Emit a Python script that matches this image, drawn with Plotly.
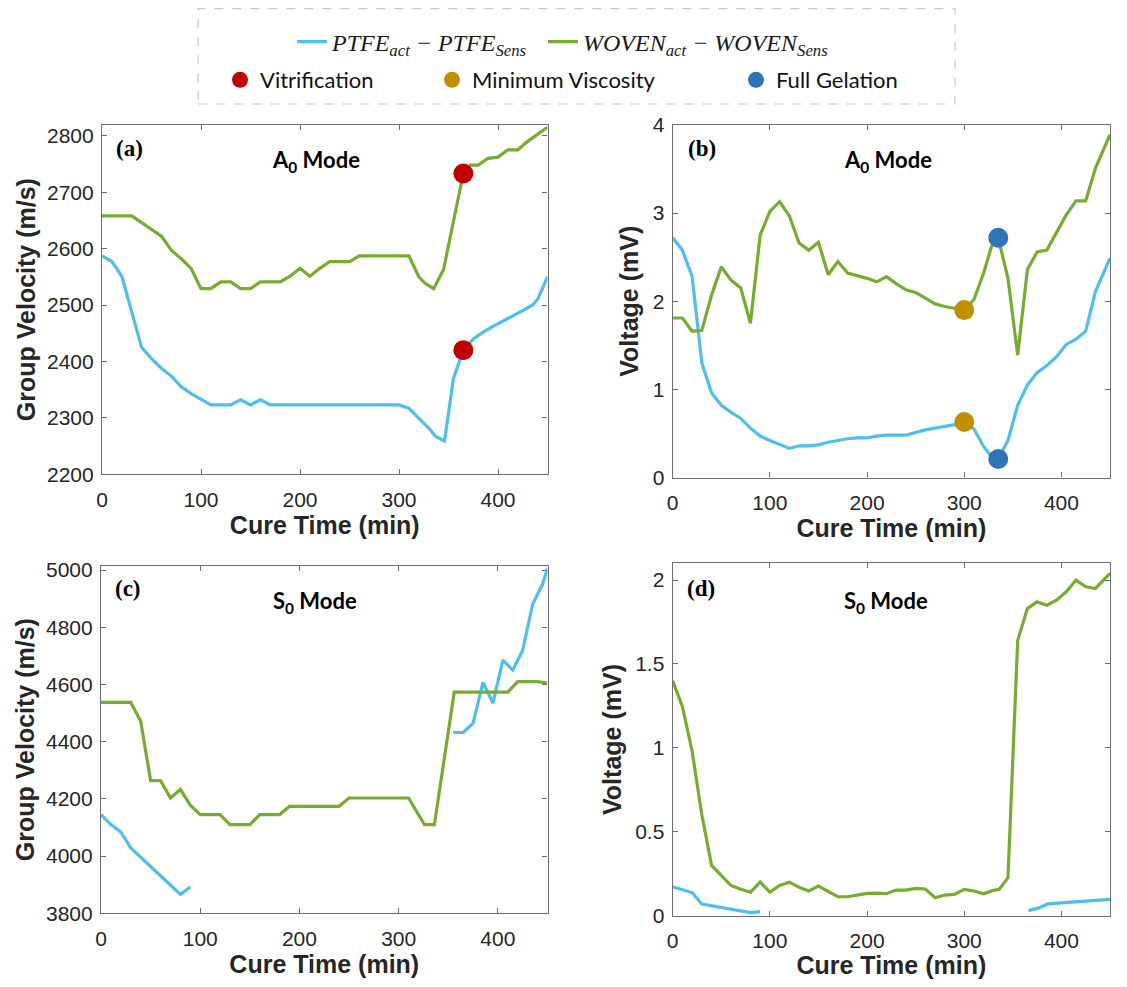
import plotly.graph_objects as go

# reference canvas size; the page body adds an 8 px margin, so the figure is drawn inside it
W, H = 1127, 987
OFF = 8
FW, FH = W - OFF, H - 2 * OFF

# ---------------- data ----------------
# Panel (a): A0 mode group velocity (m/s)
a_ptfe_t = [0, 10, 20, 30, 40, 50, 60, 70, 80, 90, 100, 110, 120, 130, 140, 150, 160, 170,
            180, 190, 200, 210, 220, 230, 240, 250, 260, 270, 280, 290, 300,
            310, 320, 330, 337, 346, 355, 365, 375, 385, 395, 405, 415, 425, 435, 440, 450]
a_ptfe_v = [2587, 2577, 2551, 2487, 2425, 2405, 2388, 2374, 2355, 2343, 2333, 2323, 2323, 2323, 2332, 2323, 2332, 2323,
            2323, 2323, 2323, 2323, 2323, 2323, 2323, 2323, 2323, 2323, 2323, 2323, 2323,
            2317, 2300, 2282, 2267, 2259, 2370, 2420, 2440, 2452, 2462, 2471, 2480, 2490, 2500, 2510, 2550]
a_woven_t = [0, 10, 20, 30, 40, 50, 60, 70, 80, 90, 100, 110, 120, 130, 140, 150, 160, 170, 180,
             190, 200, 210, 220, 230, 240, 250, 260, 270, 280, 290, 300, 310,
             320, 326, 335, 345, 355, 365, 372, 380, 390, 400, 410, 420, 430, 440, 450]
a_woven_v = [2658, 2658, 2658, 2658, 2646, 2634, 2622, 2597, 2582, 2565, 2529, 2529, 2541, 2541, 2529, 2529, 2541, 2541, 2541,
             2551, 2565, 2551, 2565, 2577, 2577, 2577, 2587, 2587, 2587, 2587, 2587, 2587,
             2550, 2539, 2529, 2563, 2648, 2733, 2748, 2748, 2760, 2762, 2775, 2775, 2790, 2803, 2815]

# Panel (b): A0 mode voltage (mV)
b_ptfe_t = [0, 10, 20, 30, 40, 50, 60, 70, 80, 90, 100, 110, 120, 130, 140, 150, 160, 170, 180, 190,
            200, 210, 220, 230, 240, 250, 260, 270, 280, 290, 300, 310, 320, 328, 335, 345, 355,
            365, 375, 385, 395, 405, 415, 425, 435, 450]
b_ptfe_v = [2.72, 2.58, 2.28, 1.30, 0.96, 0.82, 0.74, 0.67, 0.56, 0.47, 0.42, 0.37, 0.33, 0.36, 0.36, 0.37, 0.40, 0.42, 0.44, 0.45,
            0.45, 0.47, 0.48, 0.48, 0.48, 0.51, 0.54, 0.56, 0.58, 0.60, 0.63, 0.55, 0.35, 0.24, 0.21, 0.42, 0.82,
            1.05, 1.19, 1.27, 1.37, 1.51, 1.57, 1.66, 2.11, 2.49]
b_woven_t = [0, 10, 20, 30, 40, 50, 60, 70, 80, 90, 100, 110, 120, 130, 140, 150, 160, 170, 180, 190,
             200, 210, 220, 230, 240, 250, 260, 270, 280, 290, 300, 310, 320, 328, 335, 345, 355,
             365, 375, 385, 395, 405, 415, 425, 435, 450]
b_woven_v = [1.81, 1.81, 1.66, 1.67, 2.07, 2.39, 2.24, 2.15, 1.75, 2.75, 3.02, 3.13, 2.97, 2.66, 2.58, 2.67, 2.30, 2.45, 2.32, 2.29,
             2.26, 2.22, 2.28, 2.20, 2.13, 2.10, 2.03, 1.97, 1.94, 1.92, 1.90, 2.02, 2.32, 2.62, 2.72, 2.26, 1.39,
             2.36, 2.56, 2.58, 2.78, 2.98, 3.14, 3.14, 3.51, 3.89]

# Panel (c): S0 mode group velocity (m/s)
c_ptfe_t = [0, 10, 20, 30, 40, 50, 60, 70, 80, 90, None,
            355, 365, 375, 385, 395, 405, 415, 425, 435, 445, 450]
c_ptfe_v = [4145, 4110, 4084, 4029, 3996, 3964, 3931, 3899, 3866, 3892, None,
            4432, 4432, 4465, 4607, 4535, 4685, 4650, 4720, 4880, 4950, 5005]
c_woven_t = [0, 10, 20, 30, 40, 50, 60, 70, 80, 90, 100, 110, 120, 130, 140, 150, 160, 170, 180, 190,
             200, 210, 220, 230, 240, 250, 260, 270, 280, 290, 300, 310,
             326, 336, 356, 370, 380, 390, 400, 410, 420, 430, 440, 450]
c_woven_v = [4537, 4537, 4537, 4537, 4471, 4264, 4264, 4203, 4233, 4178, 4145, 4145, 4145, 4110, 4110, 4110, 4145, 4145, 4145, 4174,
             4174, 4174, 4174, 4174, 4174, 4203, 4203, 4203, 4203, 4203, 4203, 4203,
             4110, 4110, 4573, 4573, 4573, 4573, 4573, 4573, 4610, 4610, 4610, 4605]

# Panel (d): S0 mode voltage (mV)
d_ptfe_t = [0, 10, 20, 30, 40, 50, 60, 70, 80, 90, None, 366, 376, 386, 400, 420, 450]
d_ptfe_v = [0.173, 0.153, 0.137, 0.07, 0.06, 0.05, 0.04, 0.03, 0.018, 0.024, None, 0.03, 0.045, 0.07, 0.075, 0.083, 0.097]
d_woven_t = [0, 10, 20, 30, 40, 50, 60, 70, 80, 90, 100, 110, 120, 130, 140, 150, 160, 170, 180, 190,
             200, 210, 220, 230, 240, 250, 260, 270, 280, 290, 300, 310, 320, 330, 336,
             345, 355, 365, 375, 385, 395, 405, 415, 425, 435, 450]
d_woven_v = [1.40, 1.245, 0.98, 0.60, 0.30, 0.24, 0.18, 0.157, 0.14, 0.20, 0.14, 0.18, 0.20, 0.17, 0.147, 0.177, 0.143, 0.113, 0.113, 0.123,
             0.133, 0.135, 0.131, 0.153, 0.153, 0.163, 0.159, 0.107, 0.123, 0.127, 0.157, 0.147, 0.131, 0.151, 0.157,
             0.226, 1.64, 1.83, 1.87, 1.85, 1.88, 1.93, 2.00, 1.96, 1.95, 2.04]

# Cure-state markers
vit_t = [365, 365]
vit_v = [2733, 2420]
minvisc_t = [300, 300]
minvisc_v = [1.90, 0.63]
gel_t = [335, 335]
gel_v = [2.72, 0.21]

# ---------------- styling ----------------
BLUE = "#4DBEEE"
GREEN = "#77AC30"
RED = "#C00000"
GOLD = "#BF9000"
DBLUE = "#2E75B6"
AX = "#6e6e6e"
TXT = "#262626"

def px(x):
    return (x - OFF) / FW

def py(y):
    return 1 - (y - OFF) / FH

fig = go.Figure()

panels = [
    ("x", "y", a_ptfe_t, a_ptfe_v, a_woven_t, a_woven_v),
    ("x2", "y2", b_ptfe_t, b_ptfe_v, b_woven_t, b_woven_v),
    ("x3", "y3", c_ptfe_t, c_ptfe_v, c_woven_t, c_woven_v),
    ("x4", "y4", d_ptfe_t, d_ptfe_v, d_woven_t, d_woven_v),
]
ptfe_name = "<i>PTFE<sub>act</sub> − PTFE<sub>Sens</sub></i>"
woven_name = "<i>WOVEN<sub>act</sub> − WOVEN<sub>Sens</sub></i>"
for i, (xa, ya, pt, pv, wt, wv) in enumerate(panels):
    fig.add_trace(go.Scatter(x=pt, y=pv, xaxis=xa, yaxis=ya, mode="lines",
                             line=dict(color=BLUE, width=3.2), name=ptfe_name,
                             legend="legend", showlegend=(i == 0), connectgaps=False))
    fig.add_trace(go.Scatter(x=wt, y=wv, xaxis=xa, yaxis=ya, mode="lines",
                             line=dict(color=GREEN, width=3.2), name=woven_name,
                             legend="legend2", showlegend=(i == 0)))

fig.add_trace(go.Scatter(x=vit_t, y=vit_v, xaxis="x", yaxis="y", mode="markers",
                         marker=dict(color=RED, size=20), name="Vitrification", legend="legend3"))
fig.add_trace(go.Scatter(x=minvisc_t, y=minvisc_v, xaxis="x2", yaxis="y2", mode="markers",
                         marker=dict(color=GOLD, size=20), name="Minimum Viscosity", legend="legend4"))
fig.add_trace(go.Scatter(x=gel_t, y=gel_v, xaxis="x2", yaxis="y2", mode="markers",
                         marker=dict(color=DBLUE, size=20), name="Full Gelation", legend="legend5"))

SANS = "Liberation Sans, Arial, sans-serif"
tickfont = dict(family=SANS, size=21, color=TXT)
titlefont = dict(family=SANS, size=25, color=TXT, weight="bold")

def xaxis(domain, anchor):
    return dict(domain=domain, anchor=anchor, range=[0, 450], dtick=100, tick0=0,
                showline=True, linecolor=AX, linewidth=1.2, mirror="allticks",
                ticks="inside", ticklen=5, tickcolor=AX, showgrid=False, zeroline=False,
                tickfont=tickfont, automargin=False, ticklabelstandoff=6,
                title=dict(text="Cure Time (min)", font=titlefont, standoff=4))

def yaxis(domain, anchor, rng, dtick, title, standoff):
    return dict(domain=domain, anchor=anchor, range=rng, dtick=dtick,
                showline=True, linecolor=AX, linewidth=1.2, mirror="allticks",
                ticks="inside", ticklen=5, tickcolor=AX, showgrid=False, zeroline=False,
                tickfont=tickfont, automargin=False, ticklabelstandoff=3,
                title=dict(text=title, font=titlefont, standoff=standoff))

RIGHT = 1110
fig.update_layout(
    width=FW, height=FH,
    margin=dict(l=0, r=0, t=0, b=0),
    paper_bgcolor="white", plot_bgcolor="white",
    xaxis=xaxis([px(102), px(547.5)], "y"),
    yaxis=yaxis([py(474.3), py(125)], "x", [2200, 2819], 100, "Group Velocity (m/s)", 4),
    xaxis2=xaxis([px(672.7), px(RIGHT)], "y2"),
    yaxis2=yaxis([py(477.5), py(125)], "x2", [0, 4], 1, "Voltage (mV)", 6),
    xaxis3=xaxis([px(101), px(547.5)], "y3"),
    yaxis3=yaxis([py(913.3), py(566)], "x3", [3800, 5014], 200, "Group Velocity (m/s)", 4),
    xaxis4=xaxis([px(672.7), px(RIGHT)], "y4"),
    yaxis4=yaxis([py(915.7), py(563.3)], "x4", [0, 2.1], 0.5, "Voltage (mV)", 6),
    showlegend=True,
)

serif_leg = dict(family="Liberation Serif, DejaVu Serif, serif", size=24, color="#1a1a1a")
sans_leg = dict(family="Lato, Open Sans, sans-serif", size=22, color="#111111")
common = dict(orientation="h", yanchor="middle", xanchor="left", bgcolor="rgba(0,0,0,0)",
              borderwidth=0, itemclick=False, itemdoubleclick=False)
fig.update_layout(
    legend=dict(x=px(292), y=py(42), font=serif_leg, **common),
    legend2=dict(x=px(543), y=py(42), font=serif_leg, **common),
    legend3=dict(x=px(220), y=py(80), font=sans_leg, **common),
    legend4=dict(x=px(432), y=py(80), font=sans_leg, **common),
    legend5=dict(x=px(736), y=py(80), font=sans_leg, **common),
)

# dashed legend frame
fig.add_shape(type="rect", xref="paper", yref="paper",
              x0=px(198), x1=px(955), y0=py(104), y1=py(8.6),
              line=dict(color="#c8c8c8", width=1.2, dash="dash"), fillcolor="rgba(0,0,0,0)")

lab_font = dict(family="Liberation Serif, Times New Roman, serif", size=23, color="black", weight="bold")
mode_font = dict(family="Lato, Open Sans, sans-serif", size=22, color="black", weight="bold")
annots = [
    ("(a)", 114, 148, "left", lab_font), ("A<sub>0</sub> Mode", 316, 161, "center", mode_font),
    ("(b)", 686, 148, "left", lab_font), ("A<sub>0</sub> Mode", 888, 161, "center", mode_font),
    ("(c)", 113, 588, "left", lab_font), ("S<sub>0</sub> Mode", 315, 602, "center", mode_font),
    ("(d)", 685, 588, "left", lab_font), ("S<sub>0</sub> Mode", 886, 602, "center", mode_font),
]
for text, x, y, anchor, font in annots:
    fig.add_annotation(text=text, x=px(x), y=py(y), xref="paper", yref="paper",
                       xanchor=anchor, yanchor="middle", showarrow=False, font=font)

fig.write_html("out.html")
